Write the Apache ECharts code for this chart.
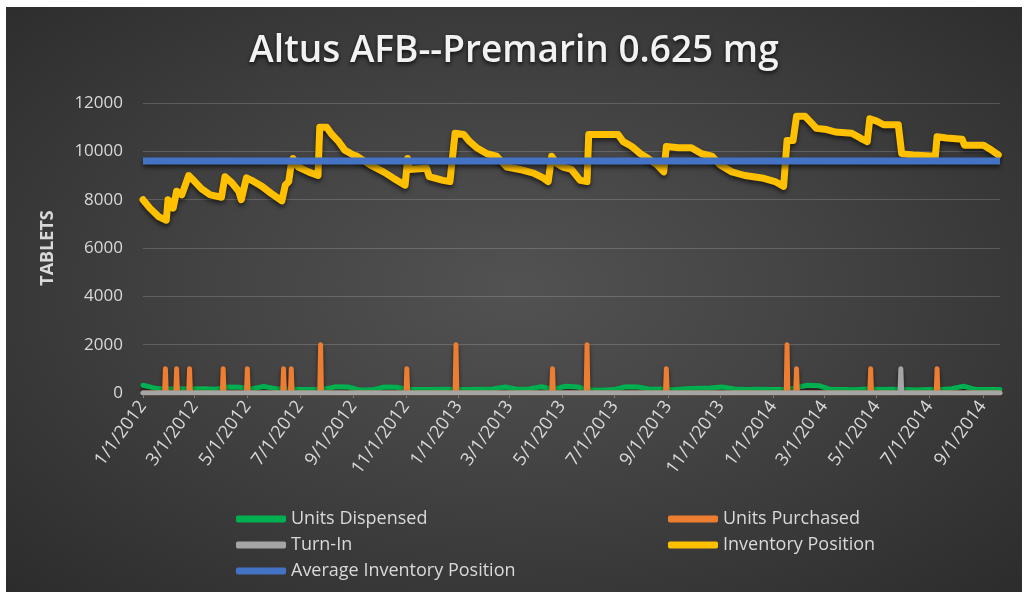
<!DOCTYPE html>
<html>
<head>
<meta charset="utf-8">
<script src="https://cdn.jsdelivr.net/npm/echarts@6/dist/echarts.min.js"></script>
<style>
  html, body { margin: 0; padding: 0; background: #fff; }
  #chart {
    position: absolute; left: 6px; top: 7px; width: 1016px; height: 585px;
    background: radial-gradient(ellipse at 50% 48%, #525252 0%, #444 40%, #2c2c2c 100%);
  }
</style>
</head>
<body>
<div id="chart"></div>
<script>
// days counted from 1/1/2012
const START = [2012, 0, 1]
const LAST_DAY = 994
const tickDays = [0, 60, 121, 182, 244, 305, 366, 425, 486, 547, 609, 670, 731, 790, 851, 912, 974]

// Inventory Position [day, tablets]
const inventory = [
  [0, 8000], [8, 7650], [18, 7300], [27, 7150], [29, 8000], [35, 7650], [39, 8350], [45, 8200],
  [53, 9000], [60, 8750], [68, 8450], [78, 8200], [91, 8100], [95, 8950], [103, 8700], [111, 8350],
  [114, 8000], [120, 8900], [126, 8800], [138, 8550], [149, 8250], [157, 8050], [161, 7950],
  [165, 8600], [169, 8750], [172, 9500], [174, 9700], [180, 9350], [192, 9150], [203, 9000],
  [205, 11000], [213, 11000], [219, 10700], [227, 10400], [234, 10050], [244, 9850], [248, 9800],
  [263, 9450], [279, 9150], [290, 8900], [304, 8600], [307, 9700], [309, 9250], [329, 9300],
  [332, 8950], [348, 8800], [356, 8750], [362, 10750], [372, 10700], [379, 10400], [387, 10150],
  [399, 9900], [410, 9800], [422, 9350], [437, 9250], [453, 9100], [464, 8900], [470, 8750],
  [474, 9800], [480, 9500], [487, 9350], [497, 9250], [507, 8800], [515, 8750], [517, 10700],
  [551, 10700], [557, 10400], [567, 10200], [577, 9900], [586, 9700], [596, 9450], [604, 9150],
  [607, 10200], [621, 10150], [636, 10150], [648, 9900], [660, 9800], [669, 9450], [683, 9150],
  [698, 9000], [718, 8900], [733, 8750], [743, 8550], [747, 10450], [754, 10450], [758, 11450],
  [768, 11450], [776, 11150], [781, 10950], [793, 10900], [803, 10800], [822, 10750], [832, 10550],
  [840, 10400], [843, 11350], [851, 11250], [859, 11100], [876, 11100], [880, 9900], [893, 9850],
  [919, 9800], [921, 10600], [932, 10550], [950, 10500], [953, 10250], [975, 10250], [982, 10100],
  [992, 9850]
]
const avgInventory = 9600

// Units Dispensed, sampled every 14 days
const dispensedDays = []
for (let d = 0; d <= LAST_DAY; d += 14) dispensedDays.push(d)
const dispensed = [
  320, 200, 170, 180, 170, 180, 160, 250, 240, 170, 270, 180, 160, 150, 140, 160, 260, 250,
  120, 130, 250, 240, 140, 150, 140, 160, 150, 140, 160, 170, 250, 160, 170, 260, 150, 280,
  250, 120, 110, 140, 260, 250, 160, 170, 130, 180, 200, 210, 250, 170, 150, 160, 150, 140,
  200, 320, 300, 140, 150, 130, 170, 140, 160, 150, 120, 150, 130, 180, 280, 140, 150, 150
]

// Units Purchased
const purchaseDays = [26, 39, 54, 93, 121, 163, 172, 206, 306, 363, 475, 515, 607, 747, 758, 844, 921]
const purchaseUnits = [1000, 1000, 1000, 1000, 1000, 1000, 1000, 2000, 1000, 2000, 1000, 2000, 1000, 2000, 1000, 1000, 1000]

// Turn-In
const turnInDays = [879]
const turnInUnits = [1000]

const toTime = d => new Date(START[0], START[1], START[2] + d).getTime()

function spikes(days, units) {
  const pts = [[toTime(0), 0]]
  days.forEach((d, i) => {
    pts.push([toTime(d - 1), 0], [toTime(d), units[i]], [toTime(d + 1), 0])
  })
  pts.push([toTime(LAST_DAY), 0])
  return pts
}

const shadow = {
  shadowColor: 'rgba(0,0,0,0.55)',
  shadowBlur: 4,
  shadowOffsetY: 3
}
const labelColor = '#d9d9d9'
const font = 'Open Sans'

const chart = echarts.init(document.getElementById('chart'), null, { renderer: 'canvas' })

const legendText = { color: labelColor, fontSize: 18, lineHeight: 20, fontFamily: font }

const option = {
  backgroundColor: 'transparent',
  animation: false,
  textStyle: { fontFamily: font },
  title: {
    text: 'Altus AFB--Premarin 0.625 mg',
    left: 'center',
    top: 26,
    padding: 0,
    textStyle: {
      color: '#f2f2f2',
      fontSize: 37,
      fontWeight: 600,
      fontFamily: font,
      textShadowColor: 'rgba(0,0,0,0.8)',
      textShadowBlur: 4,
      textShadowOffsetY: 2
    }
  },
  legend: [
    {
      orient: 'vertical',
      left: 225,
      top: 497,
      itemWidth: 50,
      itemHeight: 7,
      itemGap: 6,
      icon: 'roundRect',
      textStyle: legendText,
      data: ['Units Dispensed', 'Turn-In', 'Average Inventory Position']
    },
    {
      orient: 'vertical',
      left: 657,
      top: 497,
      itemWidth: 50,
      itemHeight: 7,
      itemGap: 6,
      icon: 'roundRect',
      textStyle: legendText,
      data: ['Units Purchased', 'Inventory Position']
    }
  ],
  grid: { left: 137, right: 22, top: 96, bottom: 199 },
  xAxis: {
    type: 'value',
    min: toTime(0),
    max: toTime(LAST_DAY),
    axisLine: { show: true, lineStyle: { color: '#8c8c8c', width: 1 } },
    axisTick: {
      show: true,
      length: 5,
      customValues: tickDays.map(toTime),
      lineStyle: { color: '#7f7f7f' }
    },
    axisLabel: {
      customValues: tickDays.map(toTime),
      rotate: 54,
      margin: 10,
      color: labelColor,
      fontSize: 18,
      fontFamily: font,
      formatter: value => {
        const d = new Date(value)
        return (d.getMonth() + 1) + '/' + d.getDate() + '/' + d.getFullYear()
      }
    },
    splitLine: { show: false }
  },
  yAxis: {
    type: 'value',
    min: 0,
    max: 12000,
    interval: 2000,
    name: 'TABLETS',
    nameLocation: 'middle',
    nameGap: 86,
    nameTextStyle: { color: labelColor, fontSize: 18, fontWeight: 'bold', fontFamily: font },
    axisLine: { show: false },
    axisTick: { show: false },
    axisLabel: { color: labelColor, fontSize: 17, margin: 20, fontFamily: font, formatter: v => String(v) },
    splitLine: { lineStyle: { color: 'rgba(255,255,255,0.17)', width: 1 } }
  },
  series: [
    {
      name: 'Units Dispensed',
      type: 'line',
      showSymbol: false,
      color: '#00b050',
      lineStyle: Object.assign({ width: 5, color: '#00b050', cap: 'round', join: 'round' }, shadow),
      data: dispensedDays.map((d, i) => [toTime(d), dispensed[i]])
    },
    {
      name: 'Units Purchased',
      type: 'line',
      showSymbol: false,
      color: '#ed7d31',
      lineStyle: Object.assign({ width: 5, color: '#ed7d31', cap: 'round', join: 'round' }, shadow),
      data: spikes(purchaseDays, purchaseUnits)
    },
    {
      name: 'Turn-In',
      type: 'line',
      showSymbol: false,
      color: '#a5a5a5',
      lineStyle: Object.assign({ width: 5, color: '#a5a5a5', cap: 'round', join: 'round' }, shadow),
      data: spikes(turnInDays, turnInUnits)
    },
    {
      name: 'Inventory Position',
      type: 'line',
      showSymbol: false,
      color: '#ffc000',
      lineStyle: Object.assign({ width: 7, color: '#ffc000', cap: 'round', join: 'round' }, shadow),
      data: inventory.map(p => [toTime(p[0]), p[1]])
    },
    {
      name: 'Average Inventory Position',
      type: 'line',
      showSymbol: false,
      color: '#4472c4',
      lineStyle: Object.assign({ width: 7, color: '#4472c4' }, shadow),
      data: [[toTime(0), avgInventory], [toTime(LAST_DAY), avgInventory]]
    }
  ]
}

chart.setOption(option)
</script>
</body>
</html>
